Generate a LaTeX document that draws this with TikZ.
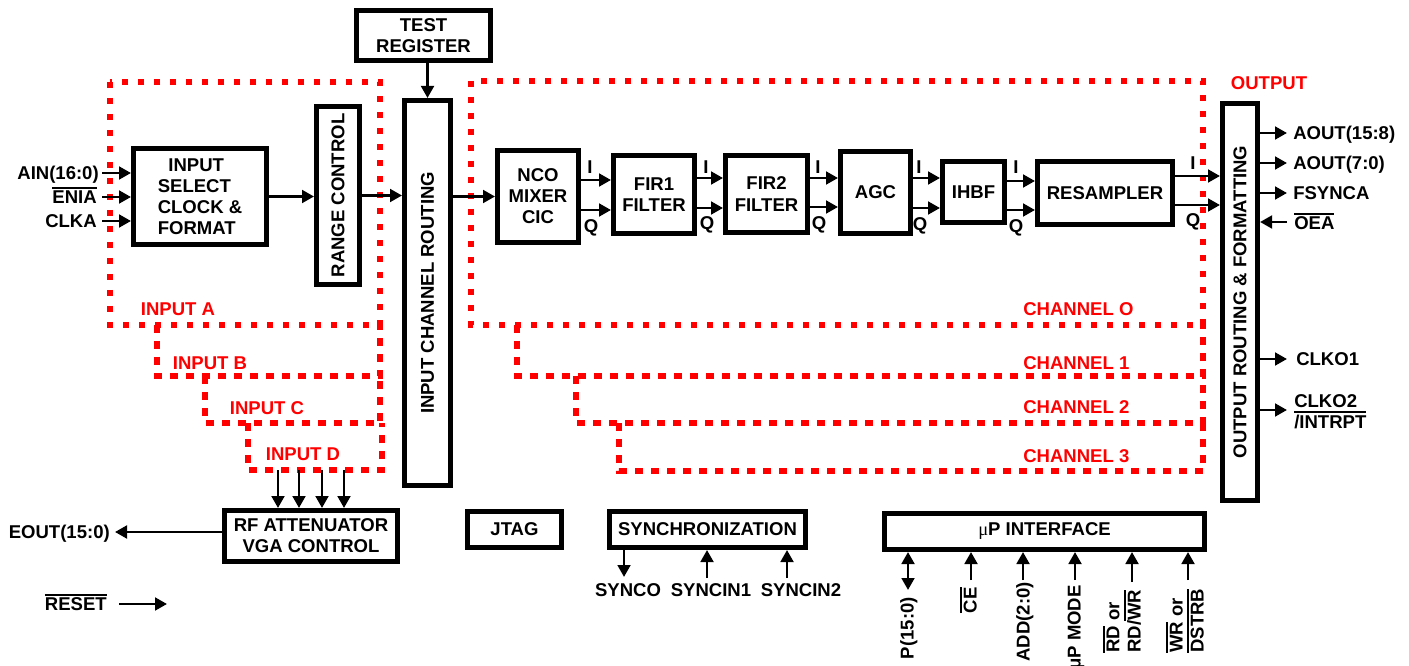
\documentclass[tikz,border=0pt]{standalone}
\usepackage{fontspec}
\setmainfont{Liberation Sans}
\newfontfamily\muf{Liberation Serif}
\usetikzlibrary{arrows.meta}
\newcommand\ovl[1]{\vbox{\hrule height 1.3pt\kern1.4pt\hbox{#1}}}
\begin{document}
\begin{tikzpicture}[x=0.75pt,y=-0.75pt,
  font=\fontsize{13.9}{15.8}\selectfont\bfseries,
  blk/.style={draw, line width=3.75pt, inner sep=0pt, align=center},
  sz/.style 2 args={minimum width=#1*0.75pt, minimum height=#2*0.75pt},
  arr/.style={line width=2.1pt, -{Triangle[length=9pt,width=9.5pt]}},
  darr/.style={line width=2.1pt, {Triangle[length=9pt,width=9.5pt]}-{Triangle[length=9pt,width=9.5pt]}},
  lbl/.style={inner sep=0pt, text height=9.95pt, text depth=0pt},
  redlbl/.style={lbl, text=red},
  dotA/.style={draw=red, line width=4.5pt, dash pattern=on 4.5pt off 7.5pt},
  dotB/.style={draw=red, line width=4.5pt, dash pattern=on 6pt off 6pt}]
\useasboundingbox (0,0) rectangle (1409,666);

% red dotted groupings
\draw[dotA] (110,82) rectangle (380,325);
\draw[dotB] (157,325) -- (157,376) -- (380,376) -- (380,325);
\draw[dotB] (205,376) -- (205,423) -- (380,423) -- (380,376);
\draw[dotB] (248,423) -- (248,470) -- (382,470) -- (382,423);
\draw[dotA] (471,81) rectangle (1203,325);
\draw[dotB] (517,325) -- (517,376) -- (1203,376) -- (1203,325);
\draw[dotB] (576,376) -- (576,423) -- (1203,423) -- (1203,376);
\draw[dotB] (619,423) -- (619,471) -- (1203,471) -- (1203,423);

\node[redlbl] (lA) at (178,309) {INPUT A};
\node[redlbl] (lB) at (210,363) {INPUT B};
\node[redlbl] (lC) at (267,408) {INPUT C};
\node[redlbl] (lD) at (303,454) {INPUT D};
\node[redlbl,anchor=west] (c0) at (1023,309) {CHANNEL O};
\node[redlbl,anchor=west] (c1) at (1023,363) {CHANNEL 1};
\node[redlbl,anchor=west] (c2) at (1023,407) {CHANNEL 2};
\node[redlbl,anchor=west] (c3) at (1023,456) {CHANNEL 3};
\node[redlbl] (lout) at (1269,83) {OUTPUT};

% blocks
\node[blk,sz={134}{50}] (treg) at (423.5,35.5) {TEST\\REGISTER};
\node[blk,sz={133}{96},align=left] (isel) at (200,196.5) {\hspace{8pt}INPUT\\SELECT\\CLOCK \&\\FORMAT};
\node[blk,sz={43}{178}] (rc) at (338,195.5) {};
\node[rotate=90,inner sep=0pt] (rct) at (rc) {RANGE CONTROL};
\node[blk,sz={46}{385}] (icr) at (427.5,293) {};
\node[rotate=90,inner sep=0pt] (icrt) at (icr) {INPUT CHANNEL ROUTING};
\node[blk,sz={81}{92}] (nco) at (538,196.5) {NCO\\MIXER\\CIC};
\node[blk,sz={81}{78}] (fir1) at (654,194.5) {FIR1\\FILTER};
\node[blk,sz={82}{77}] (fir2) at (766.5,194) {FIR2\\FILTER};
\node[blk,sz={70}{82}] (agc) at (875.5,192.5) {AGC};
\node[blk,sz={62}{61}] (ihbf) at (973.5,192) {IHBF};
\node[blk,sz={135}{63}] (res) at (1105,193) {RESAMPLER};
\node[blk,sz={35}{397}] (orf) at (1240,302) {};
\node[rotate=90,inner sep=0pt] (orft) at (orf) {OUTPUT ROUTING \& FORMATTING};
\node[blk,sz={173}{51}] (rf) at (311,536) {RF ATTENUATOR\\VGA CONTROL};
\node[blk,sz={94}{36}] (jtag) at (514.5,529.5) {JTAG};
\node[blk,sz={196}{36}] (sync) at (707.5,529.5) {SYNCHRONIZATION};
\node[blk,sz={320}{36}] (up) at (1044.5,531.5) {{\muf\mdseries μ}P INTERFACE};

% main flow
\draw[arr] (treg.south -| icr.north) -- (icr.north);
\draw[arr] (isel.east) -- (isel.east -| rc.west);
\draw[arr] (rc.east) -- (rc.east -| icr.west);
\draw[arr] (icr.east |- nco.west) -- (nco.west);

% inputs
\coordinate (ainS) at (102,173);
\coordinate (eniS) at (102,197);
\coordinate (clkS) at (102,221);
\draw[arr] (ainS) -- (ainS -| isel.west);
\draw[arr] (eniS) -- (eniS -| isel.west);
\draw[arr] (clkS) -- (clkS -| isel.west);
\node[lbl,anchor=east] (ainL) at (99,173) {AIN(16:0)};
\node[lbl,anchor=east] (eniL) at (97,197) {\ovl{ENIA}};
\node[lbl,anchor=east] (clkL) at (97,221) {CLKA};

% I/Q connections
\draw[arr] (nco.east |- 0,180) -- (fir1.west |- 0,180);
\draw[arr] (nco.east |- 0,210) -- (fir1.west |- 0,210);
\node[lbl] (i1) at (590,167) {I};
\node[lbl] (q1) at (591,226) {Q};
\draw[arr] (fir1.east |- 0,178) -- (fir2.west |- 0,178);
\draw[arr] (fir1.east |- 0,208) -- (fir2.west |- 0,208);
\node[lbl] (i2) at (706,167) {I};
\node[lbl] (q2) at (707,223) {Q};
\draw[arr] (fir2.east |- 0,178) -- (agc.west |- 0,178);
\draw[arr] (fir2.east |- 0,207) -- (agc.west |- 0,207);
\node[lbl] (i3) at (818,167) {I};
\node[lbl] (q3) at (819,223) {Q};
\draw[arr] (agc.east |- 0,178) -- (ihbf.west |- 0,178);
\draw[arr] (agc.east |- 0,208) -- (ihbf.west |- 0,208);
\node[lbl] (i4) at (919,167) {I};
\node[lbl] (q4) at (920,224) {Q};
\draw[arr] (ihbf.east |- 0,181) -- (res.west |- 0,181);
\draw[arr] (ihbf.east |- 0,210) -- (res.west |- 0,210);
\node[lbl] (i5) at (1016,167) {I};
\node[lbl] (q5) at (1016,226) {Q};
\draw[arr] (res.east |- 0,176) -- (orf.west |- 0,176);
\draw[arr] (res.east |- 0,205) -- (orf.west |- 0,205);
\node[lbl] (i6) at (1193,163) {I};
\node[lbl] (q6) at (1193,220) {Q};

% outputs
\coordinate (ao1) at (1287,133);
\coordinate (ao2) at (1287,163);
\coordinate (fsy) at (1287,193);
\coordinate (oea) at (1287,222);
\coordinate (ck1) at (1287,359);
\coordinate (ck2) at (1287,410);
\draw[arr] (orf.east |- ao1) -- (ao1);
\draw[arr] (orf.east |- ao2) -- (ao2);
\draw[arr] (orf.east |- fsy) -- (fsy);
\draw[arr] (oea) -- (orf.east |- oea);
\draw[arr] (orf.east |- ck1) -- (ck1);
\draw[arr] (orf.east |- ck2) -- (ck2);
\node[lbl,anchor=west] (ao1L) at (1293,133) {AOUT(15:8)};
\node[lbl,anchor=west] (ao2L) at (1293,163) {AOUT(7:0)};
\node[lbl,anchor=west] (fsyL) at (1293,193) {FSYNCA};
\node[lbl,anchor=west] (oeaL) at (1294,223) {\ovl{OEA}};
\node[lbl,anchor=west] (ck1L) at (1296,359) {CLKO1};
\node[inner sep=0pt,anchor=north west,align=left] (ck2L) at (1294,394) {CLKO2\\\ovl{/INTRPT}};

% RF attenuator
\coordinate (d1) at (278,470);
\coordinate (d2) at (299,470);
\coordinate (d3) at (322,470);
\coordinate (d4) at (344,470);
\draw[arr] (d1) -- (d1 |- rf.north);
\draw[arr] (d2) -- (d2 |- rf.north);
\draw[arr] (d3) -- (d3 |- rf.north);
\draw[arr] (d4) -- (d4 |- rf.north);
\coordinate (eo) at (115,532);
\draw[arr] (rf.west |- eo) -- (eo);
\node[lbl,anchor=east] (eoL) at (110,532) {EOUT(15:0)};

% reset
\coordinate (rs1) at (119,604);
\coordinate (rs2) at (167,604);
\draw[arr] (rs1) -- (rs2);
\node[lbl,anchor=east] (rsL) at (107,604) {\ovl{RESET}};

% synchronization
\coordinate (sy0) at (624,577);
\coordinate (sy1) at (707,578);
\coordinate (sy2) at (787,578);
\draw[arr] (sync.south -| sy0) -- (sy0);
\draw[arr] (sy1) -- (sy1 |- sync.south);
\draw[arr] (sy2) -- (sy2 |- sync.south);
\node[lbl] (sy0L) at (628,590) {SYNCO};
\node[lbl] (sy1L) at (711,590) {SYNCIN1};
\node[lbl] (sy2L) at (801,590) {SYNCIN2};

% uP interface
\coordinate (p0) at (908,590);
\coordinate (ce) at (971,580);
\coordinate (ad) at (1023,580);
\coordinate (md) at (1075,580);
\coordinate (rd) at (1132,582);
\coordinate (wr) at (1188,580);
\draw[darr] (p0 |- up.south) -- (p0);
\draw[arr] (ce) -- (ce |- up.south);
\draw[arr] (ad) -- (ad |- up.south);
\draw[arr] (md) -- (md |- up.south);
\draw[arr] (rd) -- (rd |- up.south);
\draw[arr] (wr) -- (wr |- up.south);
\node[lbl,rotate=90,anchor=east] (p0L) at (907,597) {P(15:0)};
\node[lbl,rotate=90,anchor=east] (ceL) at (970,587) {\ovl{CE}};
\node[lbl,rotate=90,anchor=east] (adL) at (1023,582) {ADD(2:0)};
\node[lbl,rotate=90,anchor=east] (mdL) at (1074,585) {μP MODE};
\node[inner sep=0pt,rotate=90,anchor=west,align=left] (rdL) at (1122,653) {\ovl{RD} or\\RD/\ovl{WR}};
\node[inner sep=0pt,rotate=90,anchor=west,align=left] (wrL) at (1185,653) {\ovl{WR} or\\\ovl{DSTRB}};
\end{tikzpicture}
\end{document}
